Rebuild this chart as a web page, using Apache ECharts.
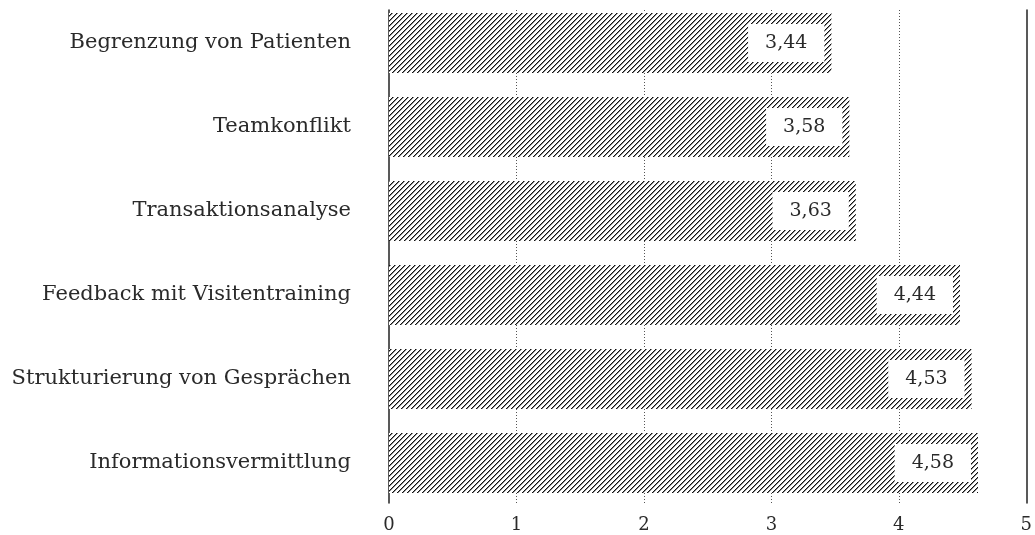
<!DOCTYPE html>
<html>
<head>
<meta charset="utf-8">
<script src="https://cdn.jsdelivr.net/npm/echarts@6/dist/echarts.min.js"></script>
<style>
  html, body { margin: 0; padding: 0; background: #fff; }
  #chart { width: 1035px; height: 535px; }
</style>
</head>
<body>
<div id="chart"></div>
<script>
// Training modules, listed top to bottom, with their mean ratings
const categories = [
  'Begrenzung von Patienten',
  'Teamkonflikt',
  'Transaktionsanalyse',
  'Feedback mit Visitentraining',
  'Strukturierung von Gesprächen',
  'Informationsvermittlung'
];
const ratings = [3.44, 3.58, 3.63, 4.44, 4.53, 4.58];
const xTicks = [0, 1, 2, 3, 4, 5];

const FONT = 'DejaVu Serif';
const TEXT = '#2a2a2a';

// 45° hatch tile used as the bar fill (one dark and one soft pixel per row)
function hatchPattern() {
  const n = 5;
  const c = document.createElement('canvas');
  c.width = n; c.height = n;
  const ctx = c.getContext('2d');
  ctx.fillStyle = '#fff';
  ctx.fillRect(0, 0, n, n);
  for (let y = 0; y < n; y++) {
    const x = (n - 1 - y);
    ctx.fillStyle = '#111';
    ctx.fillRect(x, y, 1, 1);
    ctx.fillStyle = '#888';
    ctx.fillRect((x + 1) % n, y, 1, 1);
  }
  return c;
}

const fmt = v => v.toFixed(2).replace('.', ',');

const chart = echarts.init(document.getElementById('chart'), null, { renderer: 'canvas' });

chart.setOption({
  animation: false,
  backgroundColor: '#fff',
  grid: [
    // bars
    { left: 389, right: 3, top: 1, bottom: 30 },
    // frame lines, guides and tick labels
    { left: 389, right: 3, top: 10, bottom: 32 }
  ],
  xAxis: [
    {
      gridIndex: 0, type: 'value', min: 0, max: 5, interval: 1,
      show: false
    },
    {
      gridIndex: 1, type: 'value', min: 0, max: 5, interval: 1,
      axisLine: { show: false },
      axisTick: { show: false },
      axisLabel: {
        margin: 13, color: TEXT, fontFamily: FONT, fontSize: 18,
        formatter: v => xTicks.includes(v) ? String(v) : ''
      },
      splitLine: {
        show: true, showMinLine: false, showMaxLine: false,
        lineStyle: { color: '#555', type: [1, 2], width: 1 }
      }
    }
  ],
  yAxis: [
    {
      gridIndex: 0, type: 'category', data: categories, inverse: true,
      axisLine: { show: false },
      axisTick: { show: false },
      axisLabel: { margin: 38, color: TEXT, fontFamily: FONT, fontSize: 21 }
    },
    {
      gridIndex: 1, type: 'value', position: 'left', min: 0, max: 1,
      axisLine: { show: true, onZero: false, lineStyle: { color: '#222', width: 1.5 } },
      axisTick: { show: false }, axisLabel: { show: false }, splitLine: { show: false }
    },
    {
      gridIndex: 1, type: 'value', position: 'right', min: 0, max: 1,
      axisLine: { show: true, onZero: false, lineStyle: { color: '#222', width: 1.5 } },
      axisTick: { show: false }, axisLabel: { show: false }, splitLine: { show: false }
    }
  ],
  series: [
    {
      type: 'bar',
      xAxisIndex: 0,
      yAxisIndex: 0,
      data: ratings,
      barWidth: 60,
      z: 3,
      itemStyle: { color: { image: hatchPattern(), repetition: 'repeat' } },
      label: {
        show: true,
        position: 'insideRight',
        distance: 7,
        formatter: p => fmt(p.value),
        color: TEXT,
        fontFamily: FONT,
        fontSize: 19,
        backgroundColor: '#fff',
        padding: [10, 17, 9, 17]
      }
    }
  ]
});
</script>
</body>
</html>
